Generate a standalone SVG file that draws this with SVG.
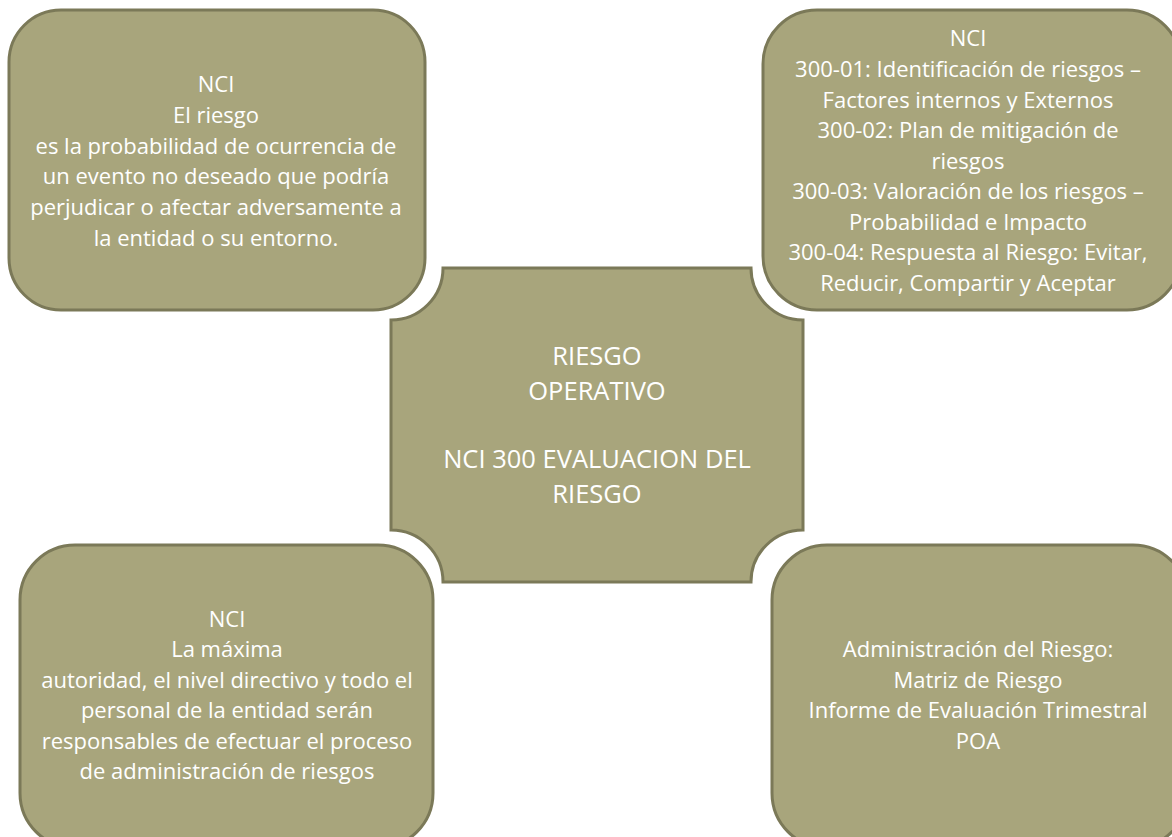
<svg xmlns="http://www.w3.org/2000/svg" width="1172" height="837" viewBox="0 0 1172 837">
<style>
.box{fill:#A8A57C;stroke:#7B7958;stroke-width:3}
.t{font-family:"Open Sans","Liberation Sans",sans-serif;font-size:22px;fill:#FFFFFF;text-anchor:middle}
.c{font-family:"Open Sans","Liberation Sans",sans-serif;font-size:25.5px;fill:#FFFFFF;text-anchor:middle}
</style>
<rect width="1172" height="837" fill="#FFFFFF"/>
<g id="connectors"></g>
<g id="node-top-left">
<rect class="box" x="9" y="10" width="416" height="300" rx="52" ry="52"/>
<text class="t"><tspan x="216" y="92">NCI</tspan><tspan x="216" y="123">El riesgo</tspan><tspan x="216" y="153.5">es la probabilidad de ocurrencia de</tspan><tspan x="216" y="184">un evento no deseado que podría</tspan><tspan x="216" y="215">perjudicar o afectar adversamente a</tspan><tspan x="216" y="246">la entidad o su entorno.</tspan></text>
</g>
<g id="node-top-right">
<rect class="box" x="763" y="10" width="418" height="300" rx="54" ry="54"/>
<text class="t"><tspan x="968" y="46">NCI</tspan><tspan x="968" y="77">300-01: Identificación de riesgos –</tspan><tspan x="968" y="107.5">Factores internos y Externos</tspan><tspan x="968" y="138">300-02: Plan de mitigación de</tspan><tspan x="968" y="168.5">riesgos</tspan><tspan x="968" y="199">300-03: Valoración de los riesgos –</tspan><tspan x="968" y="229.5">Probabilidad e Impacto</tspan><tspan x="968" y="260">300-04: Respuesta al Riesgo: Evitar,</tspan><tspan x="968" y="290.5">Reducir, Compartir y Aceptar</tspan></text>
</g>
<g id="node-center">
<path class="box" d="M443 268 L751 268 A52 52 0 0 0 803 320 L803 530 A52 52 0 0 0 751 582 L443 582 A52 52 0 0 0 391 530 L391 320 A52 52 0 0 0 443 268 Z"/>
<text class="c"><tspan x="597" y="365">RIESGO</tspan><tspan x="597" y="400">OPERATIVO</tspan><tspan x="597" y="468">NCI 300 EVALUACION DEL</tspan><tspan x="597" y="503">RIESGO</tspan></text>
</g>
<g id="node-bottom-left">
<rect class="box" x="20" y="545" width="413" height="303" rx="55" ry="55"/>
<text class="t"><tspan x="227" y="627">NCI</tspan><tspan x="227" y="657">La máxima</tspan><tspan x="227" y="688">autoridad, el nivel directivo y todo el</tspan><tspan x="227" y="718">personal de la entidad serán</tspan><tspan x="227" y="749">responsables de efectuar el proceso</tspan><tspan x="227" y="779">de administración de riesgos</tspan></text>
</g>
<g id="node-bottom-right">
<rect class="box" x="772" y="545" width="416" height="303" rx="55" ry="55"/>
<text class="t"><tspan x="978" y="657">Administración del Riesgo:</tspan><tspan x="978" y="688">Matriz de Riesgo</tspan><tspan x="978" y="718">Informe de Evaluación Trimestral</tspan><tspan x="978" y="749">POA</tspan></text>
</g>
</svg>
